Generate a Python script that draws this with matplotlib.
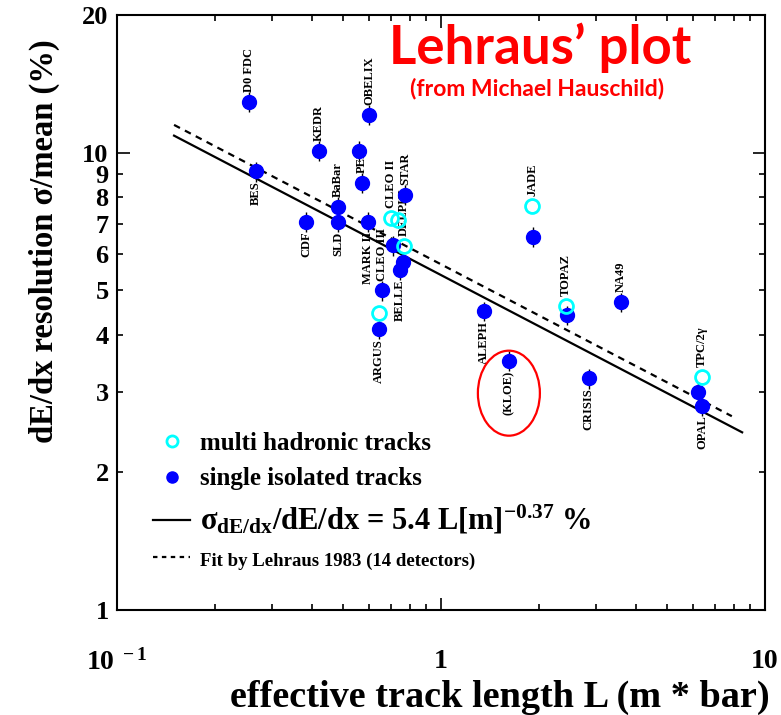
import matplotlib.pyplot as plt
from matplotlib.lines import Line2D
from matplotlib.patches import Ellipse
from matplotlib.transforms import ScaledTranslation
from matplotlib.ticker import NullFormatter
import numpy as np

plt.rcParams['font.family'] = 'Liberation Serif'
plt.rcParams['font.weight'] = 'bold'
plt.rcParams['mathtext.fontset'] = 'custom'
plt.rcParams['mathtext.rm'] = 'Liberation Serif:bold'
plt.rcParams['mathtext.it'] = 'Liberation Serif:bold'
plt.rcParams['mathtext.bf'] = 'Liberation Serif:bold'
plt.rcParams['mathtext.default'] = 'rm'

# single isolated tracks (filled dots); side: +1 label above, -1 below, 0 none
single_names = ['D0 FDC', 'BES', 'KEDR', 'OBELIX', 'CDF', 'BaBar', 'SLD', '',
                'PEP4', 'MARK II', 'CLEO III', '', 'STAR', '', 'BELLE', 'ARGUS',
                'ALEPH', '(KLOE)', '', '', 'NA49', 'CRISIS', '', 'OPAL']
single_L = [0.255, 0.269, 0.42, 0.60, 0.383, 0.481, 0.481, 0.558,
            0.57, 0.596, 0.657, 0.711, 0.774, 0.763, 0.747, 0.644,
            1.36, 1.62, 1.92, 2.45, 3.59, 2.86, 6.21, 6.39]
single_res = [12.9, 9.1, 10.1, 12.1, 7.05, 7.6, 7.05, 10.1,
              8.6, 7.05, 5.0, 6.27, 8.1, 5.77, 5.54, 4.11,
              4.5, 3.5, 6.54, 4.41, 4.71, 3.21, 3.0, 2.8]
single_side = [1, -1, 1, 1, -1, 1, -1, 0,
               1, -1, 1, 0, 1, 0, -1, -1,
               -1, -1, 0, 0, 1, -1, 0, -1]

# multi hadronic tracks (open circles)
multi_names = ['CLEO II', '', 'DELPHI', '', 'JADE', 'TOPAZ', 'TPC/2γ']
multi_L = [0.70, 0.737, 0.77, 0.644, 1.91, 2.43, 6.39]
multi_res = [7.2, 7.14, 6.25, 4.46, 7.65, 4.62, 3.23]
multi_side = [1, 0, 1, 0, 1, 1, 1]

# power-law fits: sigma = a * L^b
fit_a, fit_b, fit_range = 5.4, -0.37, (0.15, 8.5)
lehraus_a, lehraus_b, lehraus_range = 5.7, -0.37, (0.15, 7.9)

x_tick_values = [0.1, 1, 10]
x_tick_labels = [r'$10^{\ -1}$', '1', '10']
y_major_values = [1, 10, 20]
y_major_labels = ['1', '10', '20']
y_minor_values = [2, 3, 4, 5, 6, 7, 8, 9]
y_minor_labels = ['2', '3', '4', '5', '6', '7', '8', '9']

fig = plt.figure(figsize=(7.81, 7.15), dpi=100)
ax = fig.add_axes([117 / 781, 1 - 610 / 715, 648 / 781, 595 / 715])
ax.set_xscale('log')
ax.set_yscale('log')
ax.set_xlim(0.1, 10)
ax.set_ylim(1, 20)

blue = '#0000ff'
cyan = '#00ffff'

# fit lines
L = np.linspace(*fit_range, 200)
ax.plot(L, fit_a * L ** fit_b, color='black', lw=1.6, zorder=2)
L2 = np.linspace(*lehraus_range, 200)
ax.plot(L2, lehraus_a * L2 ** lehraus_b, color='black', lw=1.6,
        ls=(0, (3, 2.5)), zorder=2)

# data points with small error ticks
single_res_arr = np.array(single_res)
ax.errorbar(single_L, single_res, yerr=0.05 * single_res_arr, fmt='o',
            color=blue, ms=10, mec=blue, ecolor='black', elinewidth=1,
            capsize=0, zorder=4)
ax.plot(multi_L, multi_res, 'o', ms=10, mfc='none', mec=cyan, mew=2,
        zorder=5)

# detector names
for names, xs, ys, sides in [(single_names, single_L, single_res, single_side),
                             (multi_names, multi_L, multi_res, multi_side)]:
    for name, x, y, s in zip(names, xs, ys, sides):
        if not name or s == 0:
            continue
        ax.annotate(name, (x, y), xytext=(0, 7 * s), textcoords='offset points',
                    rotation=90, ha='center', va='bottom' if s > 0 else 'top',
                    fontsize=9, zorder=3)

# red ring around KLOE
k = single_names.index('(KLOE)')
ring = Ellipse((0, -0.32), 0.62, 0.85, fill=False, edgecolor='red', lw=1.6,
               transform=fig.dpi_scale_trans
               + ScaledTranslation(single_L[k], single_res[k], ax.transData),
               zorder=6)
ax.add_patch(ring)

# axes styling
for sp in ax.spines.values():
    sp.set_linewidth(1.5)
ax.set_xticks(x_tick_values, labels=x_tick_labels)
ax.xaxis.set_minor_formatter(NullFormatter())
ax.set_yticks(y_major_values, labels=y_major_labels)
ax.set_yticks(y_minor_values, labels=y_minor_labels, minor=True)
ax.tick_params(which='both', direction='in', top=True, right=True,
               labelsize=19, width=1.2)
ax.tick_params(which='major', length=9)
ax.tick_params(which='minor', length=4.5)
ax.tick_params(axis='x', which='both', labelsize=20, pad=28)
ax.tick_params(axis='y', which='both', pad=6)

ax.set_xlabel('effective track length L (m * bar)', fontsize=27.5,
              fontweight='bold')
ax.xaxis.set_label_coords(0.591, -0.117)
ax.set_ylabel('dE/dx resolution σ/mean (%)', fontsize=23.5,
              fontweight='bold')
ax.yaxis.set_label_coords(-0.088, 0.62)

# legend
handles = [
    Line2D([], [], marker='o', ls='none', ms=8, mfc='none', mec=cyan, mew=2),
    Line2D([], [], marker='o', ls='none', ms=8, color=blue),
    Line2D([], [], color='black', lw=1.6),
    Line2D([], [], color='black', lw=1.6, ls=(0, (2, 2))),
]
labels = ['multi hadronic tracks', 'single isolated tracks',
          r'σ$_{dE/dx}$/dE/dx = 5.4 L[m]$^{-0.37}$ %',
          'Fit by Lehraus 1983 (14 detectors)']
leg = ax.legend(handles, labels, loc='lower left',
                bbox_to_anchor=(0.036, 0.046), frameon=False, fontsize=18,
                handlelength=1.5, handletextpad=0.4, labelspacing=0.5,
                borderpad=0)
for t, size in zip(leg.get_texts(), [18, 18, 22, 13.5]):
    t.set_fontsize(size)

# title
ax.text(0.653, 0.945, 'Lehraus\u2019 plot', transform=ax.transAxes,
        color='red', fontsize=38, fontfamily='Lato', fontweight='bold',
        ha='center', va='center')
ax.text(0.648, 0.877, '(from Michael Hauschild)', transform=ax.transAxes,
        color='red', fontsize=16.5, fontfamily='Lato', fontweight='bold',
        ha='center', va='center')

fig.savefig('out.png', dpi=100)
